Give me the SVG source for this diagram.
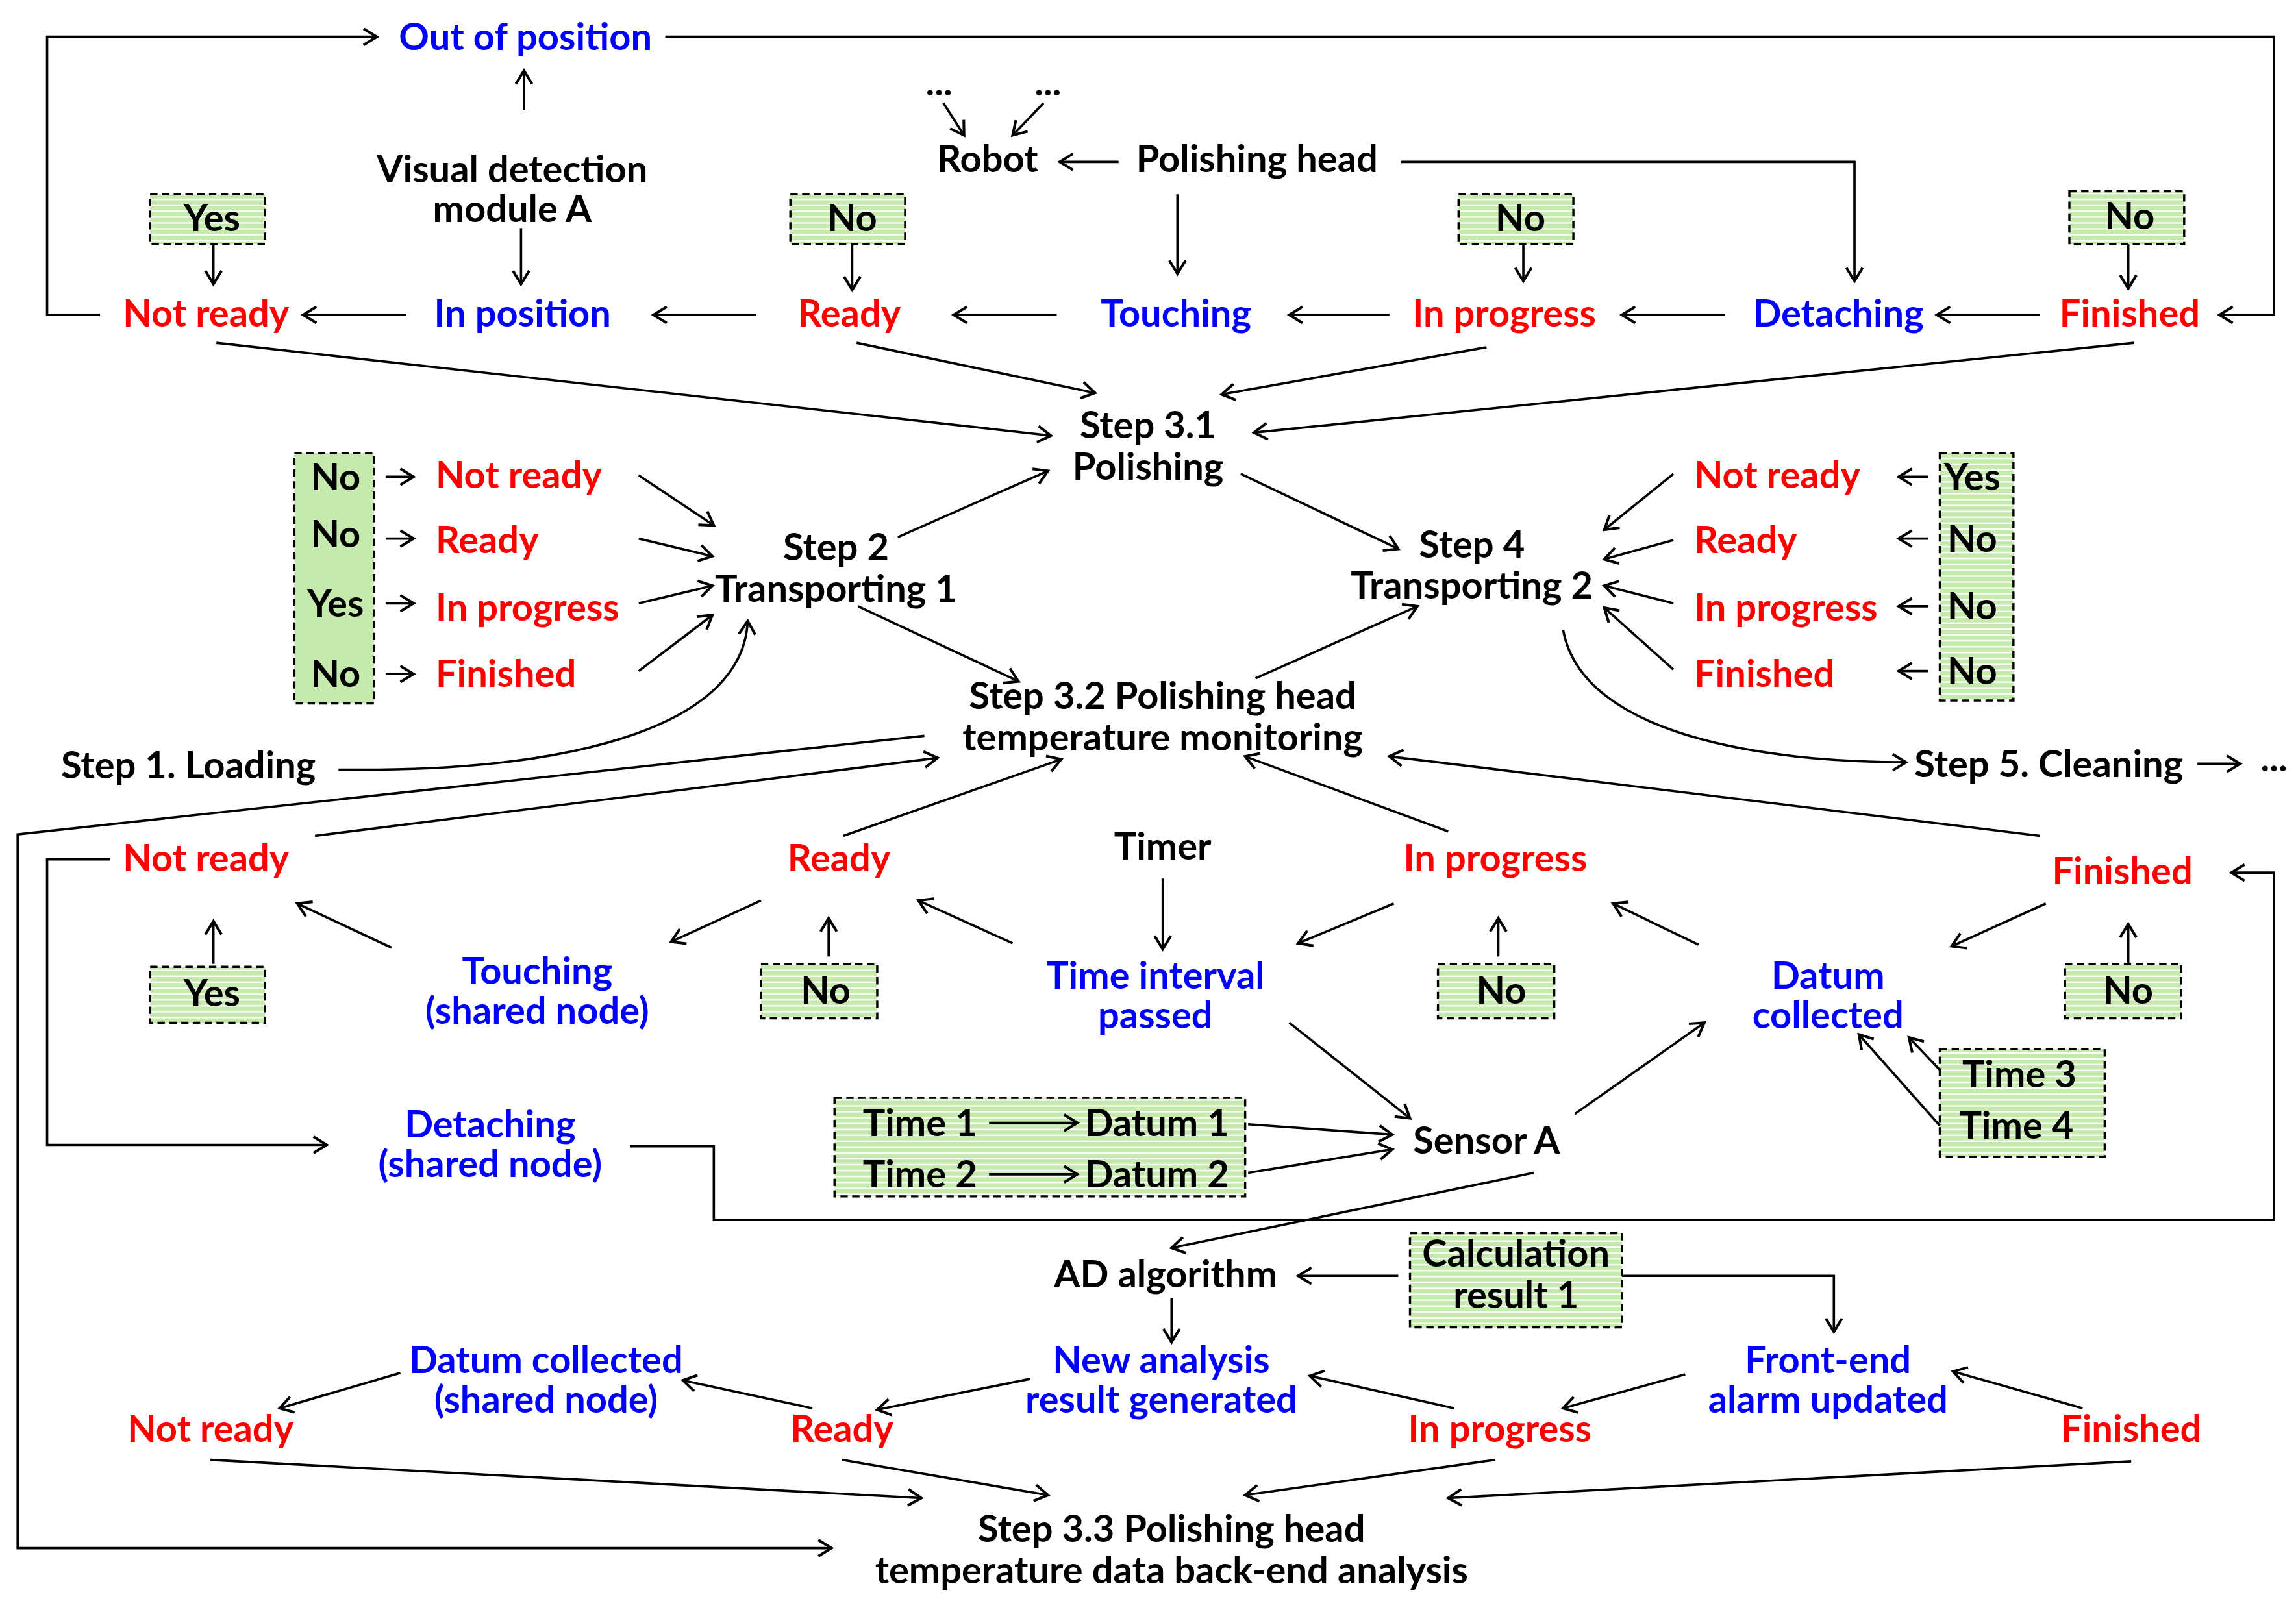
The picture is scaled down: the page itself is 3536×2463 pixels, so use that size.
<svg xmlns="http://www.w3.org/2000/svg" width="3536" height="2463" viewBox="0 0 3536 2463">
<defs>
<marker id="a" markerUnits="userSpaceOnUse" markerWidth="14" markerHeight="14" refX="10" refY="6" orient="auto" viewBox="0 0 14 12"><path d="M1,0.5 L10,6 L1,11.5" fill="none" stroke="#000" stroke-width="1.8"/></marker>
<pattern id="g" patternUnits="userSpaceOnUse" width="4" height="4"><rect width="4" height="4" fill="#c6e9ad"/><rect y="3" width="4" height="1" fill="#fff"/></pattern>
<style>
text{font-family:Lato,"Open Sans","Liberation Sans",sans-serif;font-weight:bold;font-size:25.5px;text-anchor:middle;dominant-baseline:central}
.r{fill:#ff0000}.b{fill:#0000ff}.k{fill:#000}
.l{text-anchor:start}
.bx{fill:url(#g);stroke:#000;stroke-width:1.5;stroke-dasharray:5,3}
.sx{fill:#c6e9ad;stroke:#000;stroke-width:1.5;stroke-dasharray:5,3}
.c path,.c line,.c polyline{fill:none;stroke:#000;stroke-width:1.6}
</style>
</defs>
<rect width="3536" height="2463" fill="#fff"/>
<g transform="scale(2.2667)">
<g id="boxes">
<rect class="bx" x="102" y="132" width="78" height="34"/>
<rect class="bx" x="537" y="132" width="78" height="34"/>
<rect class="bx" x="991" y="132" width="78" height="34"/>
<rect class="bx" x="1406" y="130" width="78" height="36"/>
<rect class="sx" x="200" y="308" width="54" height="170"/>
<rect class="bx" x="1318" y="308" width="50" height="168"/>
<rect class="bx" x="102" y="657" width="78" height="38"/>
<rect class="bx" x="517" y="655" width="79" height="37"/>
<rect class="bx" x="977" y="655" width="79" height="37"/>
<rect class="bx" x="1403" y="655" width="79" height="37"/>
<rect class="bx" x="1318" y="713" width="112" height="73"/>
<rect class="bx" x="567" y="746" width="279" height="67"/>
<rect class="bx" x="958" y="838" width="144" height="64"/>
</g>
<g id="nodes">
<g id="n-oop"><text class="b" x="357" y="24">Out of position</text></g>
<g id="n-vis"><text x="348" y="114">Visual detection</text><text x="348" y="141">module A</text></g>
<g id="n-robot"><text x="671" y="107">Robot</text><text x="638" y="55">...</text><text x="712" y="55">...</text></g>
<g id="n-ph"><text x="854" y="107">Polishing head</text></g>
<text x="144" y="147">Yes</text><text x="579" y="147">No</text><text x="1033" y="147">No</text><text x="1447" y="146">No</text>
<g id="n-top-row">
<text class="r" x="140" y="212">Not ready</text>
<text class="b" x="355" y="212">In position</text>
<text class="r" x="577" y="212">Ready</text>
<text class="b" x="799" y="212">Touching</text>
<text class="r" x="1022" y="212">In progress</text>
<text class="b" x="1249" y="212">Detaching</text>
<text class="r" x="1447" y="212">Finished</text>
</g>
<g id="n-s31"><text x="780" y="288">Step 3.1</text><text x="780" y="316">Polishing</text></g>
<text x="228" y="323">No</text><text x="228" y="362">No</text><text x="228" y="409">Yes</text><text x="228" y="457">No</text>
<text class="r l" x="296" y="322">Not ready</text><text class="r l" x="296" y="366">Ready</text><text class="r l" x="296" y="412">In progress</text><text class="r l" x="296" y="457">Finished</text>
<g id="n-s2"><text x="568" y="371">Step 2</text><text x="568" y="399">Transporting 1</text></g>
<g id="n-s1"><text x="128" y="519">Step 1. Loading</text></g>
<g id="n-s4"><text x="1000" y="369">Step 4</text><text x="1000" y="397">Transporting 2</text></g>
<text class="r l" x="1151" y="322">Not ready</text><text class="r l" x="1151" y="366">Ready</text><text class="r l" x="1151" y="412">In progress</text><text class="r l" x="1151" y="457">Finished</text>
<text x="1340" y="323">Yes</text><text x="1340" y="365">No</text><text x="1340" y="411">No</text><text x="1340" y="455">No</text>
<g id="n-s5"><text x="1392" y="518">Step 5. Cleaning</text><text x="1545" y="514">...</text></g>
<g id="n-s32"><text x="790" y="472">Step 3.2 Polishing head</text><text x="790" y="500">temperature monitoring</text></g>
<text class="r" x="140" y="582">Not ready</text><text class="r" x="570" y="582">Ready</text><text x="790" y="574">Timer</text><text class="r" x="1016" y="582">In progress</text><text class="r" x="1442" y="591">Finished</text>
<text x="144" y="674">Yes</text><text x="561" y="672">No</text><text x="1020" y="672">No</text><text x="1446" y="672">No</text>
<g id="n-touch2"><text class="b" x="365" y="659">Touching</text><text class="b" x="365" y="686">(shared node)</text></g>
<g id="n-tip"><text class="b" x="785" y="662">Time interval</text><text class="b" x="785" y="689">passed</text></g>
<g id="n-datum"><text class="b" x="1242" y="662">Datum</text><text class="b" x="1242" y="689">collected</text></g>
<g id="n-det2"><text class="b" x="333" y="763">Detaching</text><text class="b" x="333" y="790">(shared node)</text></g>
<text x="1372" y="729">Time 3</text><text x="1370" y="764">Time 4</text>
<text x="625" y="762">Time 1</text><text x="786" y="762">Datum 1</text><text x="625" y="797">Time 2</text><text x="786" y="797">Datum 2</text>
<g id="n-sensor"><text x="1010" y="774">Sensor A</text></g>
<g id="n-ad"><text x="792" y="865">AD algorithm</text></g>
<text x="1030" y="851">Calculation</text><text x="1030" y="879">result 1</text>
<g id="n-new"><text class="b" x="789" y="923">New analysis</text><text class="b" x="789" y="950">result generated</text></g>
<g id="n-fe"><text class="b" x="1242" y="923">Front-end</text><text class="b" x="1242" y="950">alarm updated</text></g>
<g id="n-dc"><text class="b" x="371" y="923">Datum collected</text><text class="b" x="371" y="950">(shared node)</text></g>
<text class="r" x="143" y="970">Not ready</text><text class="r" x="572" y="970">Ready</text><text class="r" x="1019" y="970">In progress</text><text class="r" x="1448" y="970">Finished</text>
<g id="n-s33"><text x="796" y="1038">Step 3.3 Polishing head</text><text x="796" y="1066">temperature data back-end analysis</text></g>
</g>
<g id="connectors" class="c">
<line x1="276" y1="214" x2="206" y2="214" marker-end="url(#a)"/>
<line x1="514" y1="214" x2="444" y2="214" marker-end="url(#a)"/>
<line x1="718" y1="214" x2="648" y2="214" marker-end="url(#a)"/>
<line x1="944" y1="214" x2="876" y2="214" marker-end="url(#a)"/>
<line x1="1172" y1="214" x2="1102" y2="214" marker-end="url(#a)"/>
<line x1="1386" y1="214" x2="1316" y2="214" marker-end="url(#a)"/>
<line x1="145" y1="166" x2="145" y2="193" marker-end="url(#a)"/>
<line x1="354" y1="155" x2="354" y2="193" marker-end="url(#a)"/>
<line x1="579" y1="166" x2="579" y2="197" marker-end="url(#a)"/>
<line x1="1035" y1="166" x2="1035" y2="191" marker-end="url(#a)"/>
<line x1="1446" y1="166" x2="1446" y2="196" marker-end="url(#a)"/>
<line x1="800" y1="132" x2="800" y2="186" marker-end="url(#a)"/>
<polyline points="952,110 1260,110 1260,191" marker-end="url(#a)"/>
<line x1="760" y1="110" x2="720" y2="110" marker-end="url(#a)"/>
<line x1="641" y1="70" x2="655" y2="92" marker-end="url(#a)"/>
<line x1="709" y1="70" x2="688" y2="92" marker-end="url(#a)"/>
<line x1="356" y1="75" x2="356" y2="48" marker-end="url(#a)"/>
<polyline points="68,214 32,214 32,25 256,25" marker-end="url(#a)"/>
<polyline points="452,25 1545,25 1545,214 1508,214" marker-end="url(#a)"/>
<line x1="147" y1="233" x2="714" y2="296" marker-end="url(#a)"/>
<line x1="582" y1="233" x2="744" y2="267" marker-end="url(#a)"/>
<line x1="1010" y1="236" x2="830" y2="268" marker-end="url(#a)"/>
<line x1="1450" y1="233" x2="852" y2="294" marker-end="url(#a)"/>
<line x1="262" y1="324" x2="281" y2="324" marker-end="url(#a)"/>
<line x1="262" y1="366" x2="281" y2="366" marker-end="url(#a)"/>
<line x1="262" y1="410" x2="281" y2="410" marker-end="url(#a)"/>
<line x1="262" y1="458" x2="281" y2="458" marker-end="url(#a)"/>
<line x1="434" y1="323" x2="485" y2="357" marker-end="url(#a)"/>
<line x1="434" y1="366" x2="484" y2="378" marker-end="url(#a)"/>
<line x1="434" y1="410" x2="484" y2="398" marker-end="url(#a)"/>
<line x1="434" y1="456" x2="484" y2="418" marker-end="url(#a)"/>
<path d="M230,523 C400,525 505,490 508,422" marker-end="url(#a)"/>
<line x1="610" y1="365" x2="712" y2="320" marker-end="url(#a)"/>
<line x1="843" y1="322" x2="950" y2="373" marker-end="url(#a)"/>
<line x1="583" y1="412" x2="692" y2="463" marker-end="url(#a)"/>
<line x1="853" y1="461" x2="963" y2="412" marker-end="url(#a)"/>
<line x1="1310" y1="324" x2="1290" y2="324" marker-end="url(#a)"/>
<line x1="1310" y1="366" x2="1290" y2="366" marker-end="url(#a)"/>
<line x1="1310" y1="412" x2="1290" y2="412" marker-end="url(#a)"/>
<line x1="1310" y1="456" x2="1290" y2="456" marker-end="url(#a)"/>
<line x1="1137" y1="322" x2="1090" y2="360" marker-end="url(#a)"/>
<line x1="1137" y1="367" x2="1090" y2="380" marker-end="url(#a)"/>
<line x1="1137" y1="410" x2="1090" y2="398" marker-end="url(#a)"/>
<line x1="1137" y1="455" x2="1090" y2="413" marker-end="url(#a)"/>
<path d="M1062,428 C1075,500 1200,518 1295,518" marker-end="url(#a)"/>
<line x1="1493" y1="519" x2="1522" y2="519" marker-end="url(#a)"/>
<line x1="145" y1="655" x2="145" y2="626" marker-end="url(#a)"/>
<line x1="563" y1="650" x2="563" y2="624" marker-end="url(#a)"/>
<line x1="1018" y1="650" x2="1018" y2="624" marker-end="url(#a)"/>
<line x1="1446" y1="655" x2="1446" y2="628" marker-end="url(#a)"/>
<line x1="266" y1="644" x2="202" y2="614" marker-end="url(#a)"/>
<line x1="517" y1="612" x2="456" y2="640" marker-end="url(#a)"/>
<line x1="688" y1="641" x2="624" y2="612" marker-end="url(#a)"/>
<line x1="947" y1="614" x2="882" y2="641" marker-end="url(#a)"/>
<line x1="1154" y1="642" x2="1096" y2="614" marker-end="url(#a)"/>
<line x1="1390" y1="614" x2="1326" y2="643" marker-end="url(#a)"/>
<line x1="790" y1="597" x2="790" y2="645" marker-end="url(#a)"/>
<line x1="214" y1="568" x2="637" y2="515" marker-end="url(#a)"/>
<line x1="573" y1="568" x2="721" y2="516" marker-end="url(#a)"/>
<line x1="984" y1="565" x2="846" y2="514" marker-end="url(#a)"/>
<line x1="1386" y1="568" x2="944" y2="514" marker-end="url(#a)"/>
<polyline points="628,500 12,567 12,1052 565,1052" marker-end="url(#a)"/>
<polyline points="75,584 32,584 32,778 222,778" marker-end="url(#a)"/>
<polyline points="428,779 485,779 485,829 1545,829 1545,593 1516,593" marker-end="url(#a)"/>
<line x1="876" y1="695" x2="958" y2="760" marker-end="url(#a)"/>
<line x1="1070" y1="757" x2="1158" y2="695" marker-end="url(#a)"/>
<line x1="1318" y1="727" x2="1297" y2="705" marker-end="url(#a)"/>
<line x1="1318" y1="765" x2="1263" y2="703" marker-end="url(#a)"/>
<line x1="672" y1="763" x2="732" y2="763" marker-end="url(#a)"/>
<line x1="672" y1="798" x2="732" y2="798" marker-end="url(#a)"/>
<line x1="848" y1="764" x2="946" y2="771" marker-end="url(#a)"/>
<line x1="848" y1="797" x2="946" y2="781" marker-end="url(#a)"/>
<line x1="1042" y1="797" x2="796" y2="848" marker-end="url(#a)"/>
<line x1="950" y1="867" x2="882" y2="867" marker-end="url(#a)"/>
<polyline points="1102,867 1246,867 1246,905" marker-end="url(#a)"/>
<line x1="796" y1="882" x2="796" y2="912" marker-end="url(#a)"/>
<line x1="272" y1="933" x2="190" y2="957" marker-end="url(#a)"/>
<line x1="552" y1="957" x2="464" y2="938" marker-end="url(#a)"/>
<line x1="700" y1="937" x2="596" y2="958" marker-end="url(#a)"/>
<line x1="988" y1="957" x2="890" y2="935" marker-end="url(#a)"/>
<line x1="1145" y1="934" x2="1062" y2="957" marker-end="url(#a)"/>
<line x1="1415" y1="957" x2="1327" y2="932" marker-end="url(#a)"/>
<line x1="143" y1="992" x2="626" y2="1018" marker-end="url(#a)"/>
<line x1="572" y1="992" x2="712" y2="1016" marker-end="url(#a)"/>
<line x1="1016" y1="992" x2="846" y2="1016" marker-end="url(#a)"/>
<line x1="1448" y1="993" x2="984" y2="1018" marker-end="url(#a)"/>
</g>
</g>
</svg>
